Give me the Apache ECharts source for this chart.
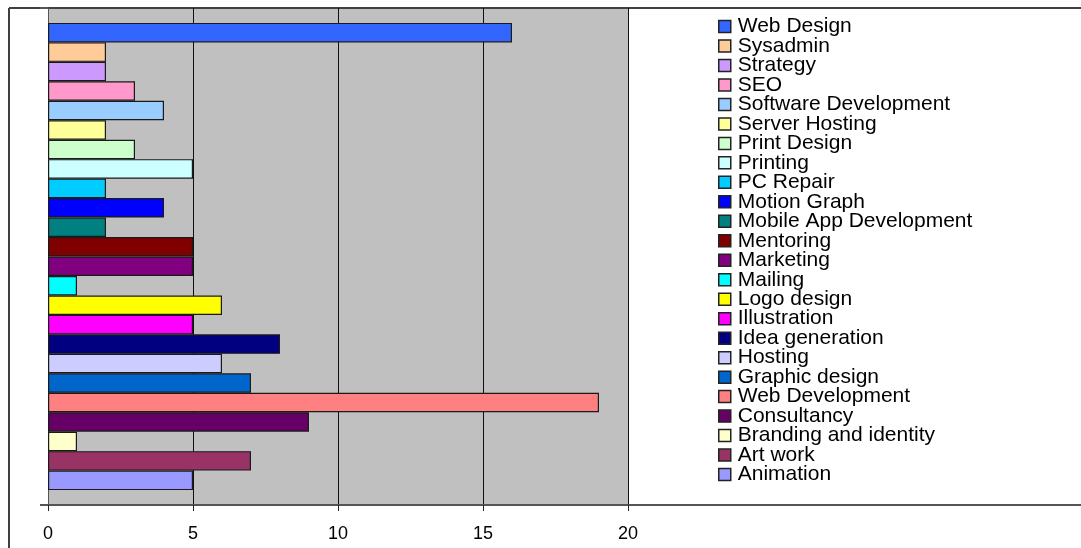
<!DOCTYPE html>
<html>
<head>
<meta charset="utf-8">
<script src="https://cdn.jsdelivr.net/npm/echarts@6/dist/echarts.min.js"></script>
<style>
html,body{margin:0;padding:0;background:#fff;}
#chart{width:1081px;height:548px;}
</style>
</head>
<body>
<div id="chart"></div>
<script>
// Legend order (top to bottom)
const categories = ['Web Design','Sysadmin','Strategy','SEO','Software Development','Server Hosting','Print Design','Printing','PC Repair','Motion Graph','Mobile App Development','Mentoring','Marketing','Mailing','Logo design','Illustration','Idea generation','Hosting','Graphic design','Web Development','Consultancy','Branding and identity','Art work','Animation'];
const values = [16,2,2,3,4,2,3,5,2,4,2,5,5,1,6,5,8,6,7,19,9,1,7,5];
const colors = ['#3366FF','#FFCC99','#CC99FF','#FF99CC','#99CCFF','#FFFF99','#CCFFCC','#CCFFFF','#00CCFF','#0000FF','#008080','#800000','#800080','#00FFFF','#FFFF00','#FF00FF','#000080','#CCCCFF','#0066CC','#FF8080','#660066','#FFFFCC','#993366','#9999FF'];
const xTicks = [0,5,10,15,20];

const chart = echarts.init(document.getElementById('chart'), null, {renderer:'canvas'});
const series = categories.map((name,i)=>({
  name: name,
  type: 'bar',
  data: [values[i]],
  barGap: '0%',
  barCategoryGap: '6%',
  itemStyle: {color: colors[i], borderColor: '#1a1a1a', borderWidth: 1.2},
  emphasis: {disabled: true},
  silent: true
}));

chart.setOption({
  animation: false,
  grid: {left: 48, right: 453, top: 8, bottom: 43, show: true, backgroundColor: '#C0C0C0', borderWidth: 0},
  xAxis: {
    type: 'value', min: xTicks[0], max: xTicks[xTicks.length-1], interval: 5,
    axisLine: {show: true, onZero: false, lineStyle: {color: '#555', width: 2}},
    axisTick: {show: true, length: 6, lineStyle: {color: '#222', width: 1}},
    splitLine: {show: true, lineStyle: {color: '#111', width: 1}},
    axisLabel: {color: '#000', fontFamily: 'Liberation Sans, Arial', fontSize: 18, margin: 20}
  },
  yAxis: {
    type: 'category', data: [''], inverse: true,
    axisLine: {show: true, lineStyle: {color: '#555', width: 1}},
    axisTick: {show: true, length: 8, lineStyle: {color: '#555', width: 2}},
    axisLabel: {show: false}
  },
  legend: {
    orient: 'vertical', left: 718, top: 16, padding: 0,
    itemGap: -1.52, itemWidth: 12, itemHeight: 12, icon: 'rect',
    data: categories,
    selectedMode: false,
    textStyle: {color: '#000', fontFamily: 'Liberation Sans, Arial', fontSize: 21, padding: [0,0,0,2]},
    itemStyle: {borderColor: '#222', borderWidth: 1.5}
  },
  graphic: [
    {type: 'line', shape: {x1: 9, y1: 8, x2: 1081, y2: 8}, style: {stroke: '#404040', lineWidth: 2}, silent: true},
    {type: 'line', shape: {x1: 9, y1: 8, x2: 9, y2: 548}, style: {stroke: '#404040', lineWidth: 2}, silent: true},
    {type: 'line', shape: {x1: 40, y1: 505, x2: 1081, y2: 505}, style: {stroke: '#555', lineWidth: 2}, silent: true}
  ],
  series: series
});
</script>
</body>
</html>
